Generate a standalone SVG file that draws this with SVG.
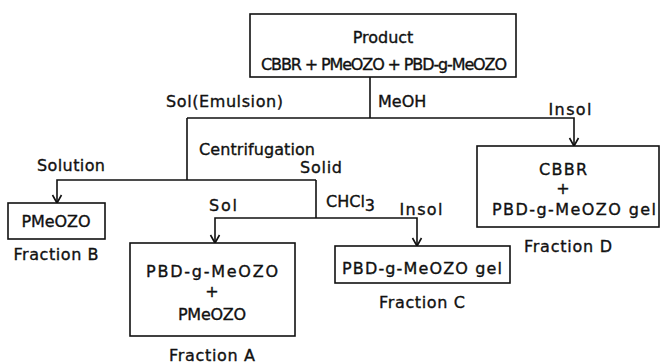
<svg xmlns="http://www.w3.org/2000/svg" width="661" height="364" viewBox="0 0 661 364">
<style>
text{font-family:"DejaVu Sans","Liberation Sans",sans-serif;font-size:16px;fill:#111;stroke:#111;stroke-width:0.35}
.m{text-anchor:middle}
.box{fill:#fff;stroke:#111;stroke-width:1.6}
.ln{fill:none;stroke:#111;stroke-width:1.6}
</style>
<defs>
<marker id="ah" markerUnits="userSpaceOnUse" markerWidth="12" markerHeight="12" refX="10" refY="6" orient="auto" viewBox="0 0 12 12">
<path d="M2,1.5 L10,6 L2,10.5" fill="none" stroke="#111" stroke-width="1.6"/>
</marker>
</defs>
<rect width="661" height="364" fill="#fff"/>
<g id="connectors">
<path class="ln" d="M370,77 V118"/>
<path class="ln" d="M187,118 H574 V146" marker-end="url(#ah)"/>
<path class="ln" d="M187,118 V180"/>
<path class="ln" d="M316,180 H57 V203" marker-end="url(#ah)"/>
<path class="ln" d="M316,180 V218"/>
<path class="ln" d="M316,218 H215 V243" marker-end="url(#ah)"/>
<path class="ln" d="M316,218 H417 V246" marker-end="url(#ah)"/>
</g>
<g id="labels">
<text x="166" y="107" textLength="117">Sol(Emulsion)</text>
<text x="378" y="107">MeOH</text>
<text class="m" x="570" y="115" textLength="43">Insol</text>
<text x="199" y="155" textLength="116">Centrifugation</text>
<text x="37" y="171" textLength="68">Solution</text>
<text x="300" y="173" textLength="42">Solid</text>
<text x="326" y="207">CHCl<tspan dy="4">3</tspan></text>
<text class="m" x="223" y="211" textLength="28">Sol</text>
<text class="m" x="421" y="215" textLength="43">Insol</text>
</g>
<g id="n-product">
<rect class="box" x="250" y="14" width="266" height="63"/>
<text class="m" x="383" y="43">Product</text>
<text class="m" x="384" y="70" textLength="246">CBBR + PMeOZO + PBD-g-MeOZO</text>
</g>
<g id="n-fractionB">
<rect class="box" x="8" y="203" width="97" height="36"/>
<text class="m" x="56" y="227" textLength="69">PMeOZO</text>
<text class="m" x="56" y="260" textLength="85">Fraction B</text>
</g>
<g id="n-fractionA">
<rect class="box" x="130" y="243" width="165" height="93"/>
<text class="m" x="212" y="277" textLength="132">PBD-g-MeOZO</text>
<text class="m" x="212" y="297">+</text>
<text class="m" x="212" y="320" textLength="68">PMeOZO</text>
<text class="m" x="212" y="361" textLength="86">Fraction A</text>
</g>
<g id="n-fractionC">
<rect class="box" x="335" y="246" width="175" height="37"/>
<text class="m" x="422" y="274" textLength="160">PBD-g-MeOZO  gel</text>
<text class="m" x="422" y="308" textLength="86">Fraction C</text>
</g>
<g id="n-fractionD">
<rect class="box" x="477" y="146" width="182" height="81"/>
<text class="m" x="563" y="175" textLength="48">CBBR</text>
<text class="m" x="563" y="194">+</text>
<text class="m" x="574" y="215" textLength="164">PBD-g-MeOZO  gel</text>
<text class="m" x="568" y="252" textLength="88">Fraction D</text>
</g>
</svg>
